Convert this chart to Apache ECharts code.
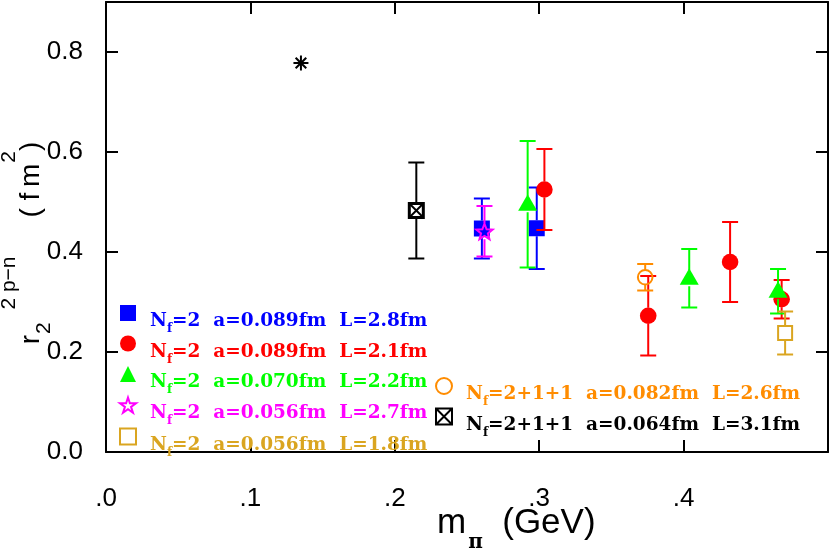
<!DOCTYPE html>
<html>
<head>
<meta charset="utf-8">
<script src="https://cdn.jsdelivr.net/npm/echarts@6/dist/echarts.min.js"></script>
<style>html,body{margin:0;padding:0;background:#fff}#c{width:831px;height:553px}</style>
</head>
<body>
<div id="c"></div>
<script>
// ---- data (x = m_pi in GeV, y = r^2, e = error) ----
const xTicks = ['.0', '.1', '.2', '.3', '.4'];
const yTicks = ['0.0', '0.2', '0.4', '0.6', '0.8'];

const nameBlue    = 'N_f=2  a=0.089fm  L=2.8fm';
const nameRed     = 'N_f=2  a=0.089fm  L=2.1fm';
const nameGreen   = 'N_f=2  a=0.070fm  L=2.2fm';
const nameMagenta = 'N_f=2  a=0.056fm  L=2.7fm';
const nameGold    = 'N_f=2  a=0.056fm  L=1.8fm';
const nameOrange  = 'N_f=2+1+1  a=0.082fm  L=2.6fm';
const nameBlack   = 'N_f=2+1+1  a=0.064fm  L=3.1fm';

const blueData    = [[0.2603, 0.447, 0.060], [0.2983, 0.4475, 0.0815]];
const redData     = [[0.3036, 0.525, 0.081], [0.3755, 0.2725, 0.0795], [0.4322, 0.380, 0.080], [0.4679, 0.3055, 0.0385]];
const greenData   = [[0.2920, 0.4955, 0.1265], [0.4039, 0.3475, 0.0585], [0.4654, 0.3215, 0.0445]];
const magentaData = [[0.2621, 0.4415, 0.0505]];
const goldData    = [[0.4703, 0.238, 0.043]];
const orangeData  = [[0.3734, 0.3495, 0.0265]];
const blackData   = [[0.2149, 0.483, 0.096]];
const asteriskData = [[0.135, 0.778, 0]];

const C = {blue:'#0000ff', red:'#ff0000', green:'#00ff00', magenta:'#ff00ff', gold:'#daa520', orange:'#ff8c00', black:'#000000'};

function starPoints(cx, cy, R, r) {
  const pts = [];
  for (let i = 0; i < 10; i++) {
    const a = -Math.PI / 2 + i * Math.PI / 5;
    const rr = i % 2 === 0 ? R : r;
    pts.push([cx + rr * Math.cos(a), cy + rr * Math.sin(a)]);
  }
  return pts;
}

function marker(kind, c, color) {
  const x = c[0], y = c[1];
  switch (kind) {
    case 'square': return {type:'rect', shape:{x:x-8, y:y-8, width:16, height:16}, style:{fill:color}};
    case 'circle': return {type:'circle', shape:{cx:x, cy:y, r:8.3}, style:{fill:color}};
    case 'triangle': return {type:'polygon', shape:{points:[[x, y-10], [x-9.5, y+6.5], [x+9.5, y+6.5]]}, style:{fill:color}};
    case 'star': return {type:'polygon', shape:{points:starPoints(x, y+1, 8.5, 3.6)}, style:{fill:'none', stroke:color, lineWidth:2}};
    case 'ocircle': return {type:'circle', shape:{cx:x, cy:y, r:7.3}, style:{fill:'none', stroke:color, lineWidth:2}};
    case 'osquare': return {type:'rect', shape:{x:x-7, y:y-7, width:14, height:14}, style:{fill:'none', stroke:color, lineWidth:2}};
    case 'xsquare': return {type:'group', children:[
      {type:'rect', shape:{x:x-7, y:y-7, width:14, height:14}, style:{fill:'#fff', stroke:color, lineWidth:3}},
      {type:'line', shape:{x1:x-6, y1:y-6, x2:x+6, y2:y+6}, style:{stroke:color, lineWidth:2}},
      {type:'line', shape:{x1:x+6, y1:y-6, x2:x-6, y2:y+6}, style:{stroke:color, lineWidth:2}}
    ]};
    case 'asterisk': {
      const ch = [];
      for (let i = 0; i < 4; i++) {
        const a = i * Math.PI / 4, d = 7.5;
        ch.push({type:'line', shape:{x1:x - d*Math.cos(a), y1:y - d*Math.sin(a), x2:x + d*Math.cos(a), y2:y + d*Math.sin(a)}, style:{stroke:color, lineWidth:2}});
      }
      return {type:'group', children:ch};
    }
  }
}

function makeRender(kind, color, half) {
  return function (params, api) {
    const x = api.value(0), y = api.value(1), e = api.value(2);
    const c = api.coord([x, y]);
    const ch = [];
    if (e > 0) {
      const t = api.coord([x, y + e]), b = api.coord([x, y - e]);
      const cap = 8, lw = 2;
      ch.push({type:'line', shape:{x1:c[0], y1:t[1], x2:c[0], y2:c[1]-half}, style:{stroke:color, lineWidth:lw}});
      ch.push({type:'line', shape:{x1:c[0], y1:c[1]+half, x2:c[0], y2:b[1]}, style:{stroke:color, lineWidth:lw}});
      ch.push({type:'line', shape:{x1:c[0]-cap, y1:t[1], x2:c[0]+cap, y2:t[1]}, style:{stroke:color, lineWidth:lw}});
      ch.push({type:'line', shape:{x1:c[0]-cap, y1:b[1], x2:c[0]+cap, y2:b[1]}, style:{stroke:color, lineWidth:lw}});
    }
    ch.push(marker(kind, c, color));
    return {type:'group', children:ch};
  };
}

function mkSeries(name, data, kind, color, half) {
  return {type:'custom', name:name, data:data, encode:{x:0, y:1}, renderItem:makeRender(kind, color, half), itemStyle:{color:color}, z:3};
}

const serif = "'DejaVu Serif', serif";
const sans = "'Liberation Sans', Arial, sans-serif";
const legendRich = {
  a: {fontFamily:serif, fontWeight:'bold', fontSize:18.5, lineHeight:16, padding:[7,0,0,9], verticalAlign:'top'},
  s: {fontFamily:serif, fontWeight:'bold', fontSize:12, lineHeight:16, padding:[18,0,0,0], verticalAlign:'top'},
  n: {fontFamily:serif, fontWeight:'bold', fontSize:18.5, lineHeight:16, padding:[7,0,0,0], verticalAlign:'top'}
};
function legendFmt(name) {
  return '{a|N}{s|f}{n|' + name.replace('N_f', '') + '}';
}
const starPath = 'path://M50,0L61.8,36.2L100,36.2L69.1,58.8L80.9,95.1L50,72.7L19.1,95.1L30.9,58.8L0,36.2L38.2,36.2Z';
const xsqPath = 'path://M0,0L10,0L10,10L0,10ZM0,0L10,10M10,0L0,10';

function axisCommon(extra) {
  return Object.assign({
    type:'value',
    axisLine:{onZero:false, lineStyle:{color:'#000', width:2}},
    axisTick:{inside:true, length:12, lineStyle:{color:'#000', width:2}},
    splitLine:{show:false}
  }, extra);
}

const option = {
  animation: false,
  backgroundColor: '#fff',
  grid: {left:106, right:2, top:2, bottom:101, containLabel:false},
  xAxis: [
    axisCommon({position:'bottom', min:0, max:0.5, interval:0.1,
     axisLabel:{margin:34, fontSize:26, fontFamily:sans, color:'#000',
       formatter: v => { const i = Math.round(v * 10); return (Math.abs(v*10 - i) < 1e-6 && i < xTicks.length) ? xTicks[i] : ''; }}}),
    axisCommon({position:'top', min:0, max:0.5, interval:0.1, axisLabel:{show:false}})
  ],
  yAxis: [
    axisCommon({position:'left', min:0, max:0.9, interval:0.2,
     axisLabel:{margin:23, fontSize:26, fontFamily:sans, color:'#000',
       formatter: v => { const i = Math.round(v * 5); return (Math.abs(v*5 - i) < 1e-6 && i < yTicks.length) ? yTicks[i] : ''; }}}),
    axisCommon({position:'right', min:0, max:0.9, interval:0.2, axisLabel:{show:false}})
  ],
  legend: [
    {orient:'vertical', left:119, top:305, padding:0, itemGap:0.5, itemWidth:16, itemHeight:16, selectedMode:false,
     formatter: legendFmt, textStyle:{fontFamily:serif, fontWeight:'bold', fontSize:18.5, lineHeight:16, rich:legendRich},
     data:[
       {name:nameBlue, icon:'rect', itemStyle:{color:C.blue, borderWidth:0}, textStyle:{color:C.blue}},
       {name:nameRed, icon:'circle', itemStyle:{color:C.red, borderWidth:0}, textStyle:{color:C.red}},
       {name:nameGreen, icon:'triangle', itemStyle:{color:C.green, borderWidth:0}, textStyle:{color:C.green}},
       {name:nameMagenta, icon:starPath, itemStyle:{color:'#fff', borderColor:C.magenta, borderWidth:2}, textStyle:{color:C.magenta}},
       {name:nameGold, icon:'rect', itemStyle:{color:'#fff', borderColor:C.gold, borderWidth:2}, textStyle:{color:C.gold}}
     ]},
    {orient:'vertical', left:435, top:377, padding:0, itemGap:-0.5, itemWidth:16, itemHeight:16, selectedMode:false,
     formatter: legendFmt, textStyle:{fontFamily:serif, fontWeight:'bold', fontSize:18.5, lineHeight:16, rich:legendRich},
     data:[
       {name:nameOrange, icon:'circle', itemStyle:{color:'#fff', borderColor:C.orange, borderWidth:2}, textStyle:{color:C.orange}},
       {name:nameBlack, icon:xsqPath, itemStyle:{color:'#fff', borderColor:C.black, borderWidth:2}, textStyle:{color:C.black}}
     ]}
  ],
  graphic: [
    {type:'text', x:437, y:506, style:{
      text:'{m|m}{p|π}{m|  (GeV)}', fill:'#000',
      rich:{
        m:{fontSize:35, fontFamily:sans, lineHeight:40, verticalAlign:'top'},
        p:{fontSize:20, fontFamily:serif, fontWeight:'bold', lineHeight:20, padding:[27,0,0,2], verticalAlign:'top'}
      }}},
    {type:'text', x:9, y:243, rotation:Math.PI/2, style:{
      text:'{m|r}{b|2}{t|  2 p\u2212n}{m|     ( f\u2009m}{t|2}{m|)}', fill:'#000', align:'center', verticalAlign:'middle',
      rich:{
        m:{fontSize:28, fontFamily:sans, lineHeight:20, padding:[18,0,0,0], verticalAlign:'top'},
        t:{fontSize:21, fontFamily:sans, lineHeight:20, padding:[0,0,0,1], verticalAlign:'top'},
        b:{fontSize:21, fontFamily:sans, lineHeight:20, padding:[35,0,0,1], verticalAlign:'top'}
      }}}
  ],
  series: [
    mkSeries(nameBlue, blueData, 'square', C.blue, 8),
    mkSeries(nameRed, redData, 'circle', C.red, 8),
    mkSeries(nameGreen, greenData, 'triangle', C.green, 8),
    mkSeries(nameMagenta, magentaData, 'star', C.magenta, 8),
    mkSeries(nameGold, goldData, 'osquare', C.gold, 7),
    mkSeries(nameOrange, orangeData, 'ocircle', C.orange, 7.3),
    mkSeries(nameBlack, blackData, 'xsquare', C.black, 7),
    mkSeries('asterisk', asteriskData, 'asterisk', C.black, 0)
  ]
};

const chart = echarts.init(document.getElementById('c'), null, {renderer:'canvas'});
chart.setOption(option);
</script>
</body>
</html>
